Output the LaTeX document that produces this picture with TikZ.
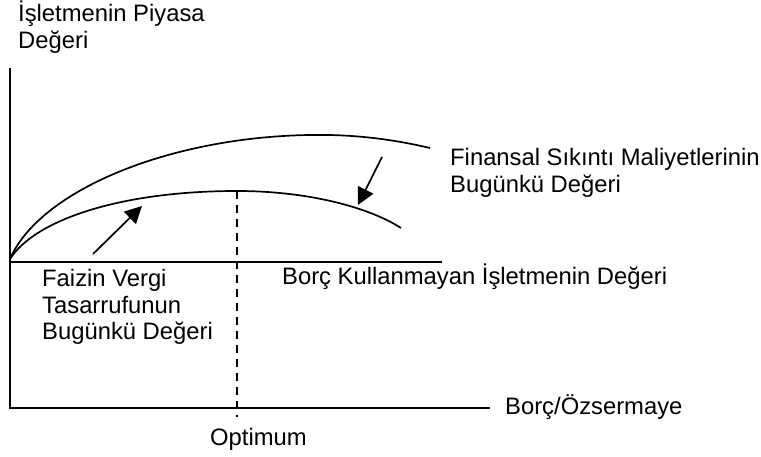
\documentclass[tikz,border=0pt]{standalone}
\usepackage{fontspec}
\setmainfont{Liberation Sans}
\usetikzlibrary{arrows.meta}
\begin{document}
\begin{tikzpicture}[x=1pt,y=-1pt,
  axis/.style={line width=1.7pt},
  curve/.style={line width=1.7pt},
  guide/.style={line width=1.7pt,dash pattern=on 8pt off 6pt},
  pointer/.style={line width=1.7pt,-{Triangle[length=17pt,width=17pt]}},
  lbl/.style={font=\fontsize{23.8}{27}\selectfont,inner sep=0pt,anchor=base west,align=left}]
\useasboundingbox (0,0) rectangle (761,457);

% axes
\coordinate (origin) at (10,259);
\coordinate (ytop) at (10,68);
\coordinate (ybot) at (10,408);
\coordinate (xend) at (490,408);
\coordinate (baseL) at (10,262);
\coordinate (baseR) at (442,262);
\draw[axis] (ytop) -- (ybot) -- (xend);
\draw[axis] (baseL) -- (baseR);

% market value with and without distress costs
\coordinate (peakU) at (310,135);
\coordinate (endU) at (430,148);
\coordinate (peakL) at (237,191);
\coordinate (endL) at (401,228);
\draw[curve] (origin) .. controls (40,190) and (170,137) .. (peakU)
  .. controls (360,134) and (400,141) .. (endU);
\draw[curve] (origin) .. controls (35,220) and (120,191) .. (peakL)
  .. controls (310,191) and (370,208) .. (endL);

% optimum
\coordinate (optBot) at (237,417);
\draw[guide] (peakL) -- (optBot);

% pointers
\coordinate (tsTail) at (93,254);
\coordinate (tsHead) at (142,206);
\coordinate (fdTail) at (382,157);
\coordinate (fdHead) at (358,205);
\draw[pointer] (tsTail) -- (tsHead);
\draw[pointer] (fdTail) -- (fdHead);

% labels (multi-line nodes sit on the baseline of their last line)
\node[lbl] (ylab) at (18,49) {İşletmenin Piyasa\\Değeri};
\node[lbl] (fdlab) at (450,193) {Finansal Sıkıntı Maliyetlerinin\\Bugünkü Değeri};
\node[lbl] (tslab) at (42,340) {Faizin Vergi\\Tasarrufunun\\Bugünkü Değeri};
\node[lbl] (unlev) at (282,285) {Borç Kullanmayan İşletmenin Değeri};
\node[lbl] (xlab) at (505,414) {Borç/Özsermaye};
\node[lbl] (opt) at (210,445) {Optimum};
\end{tikzpicture}
\end{document}
